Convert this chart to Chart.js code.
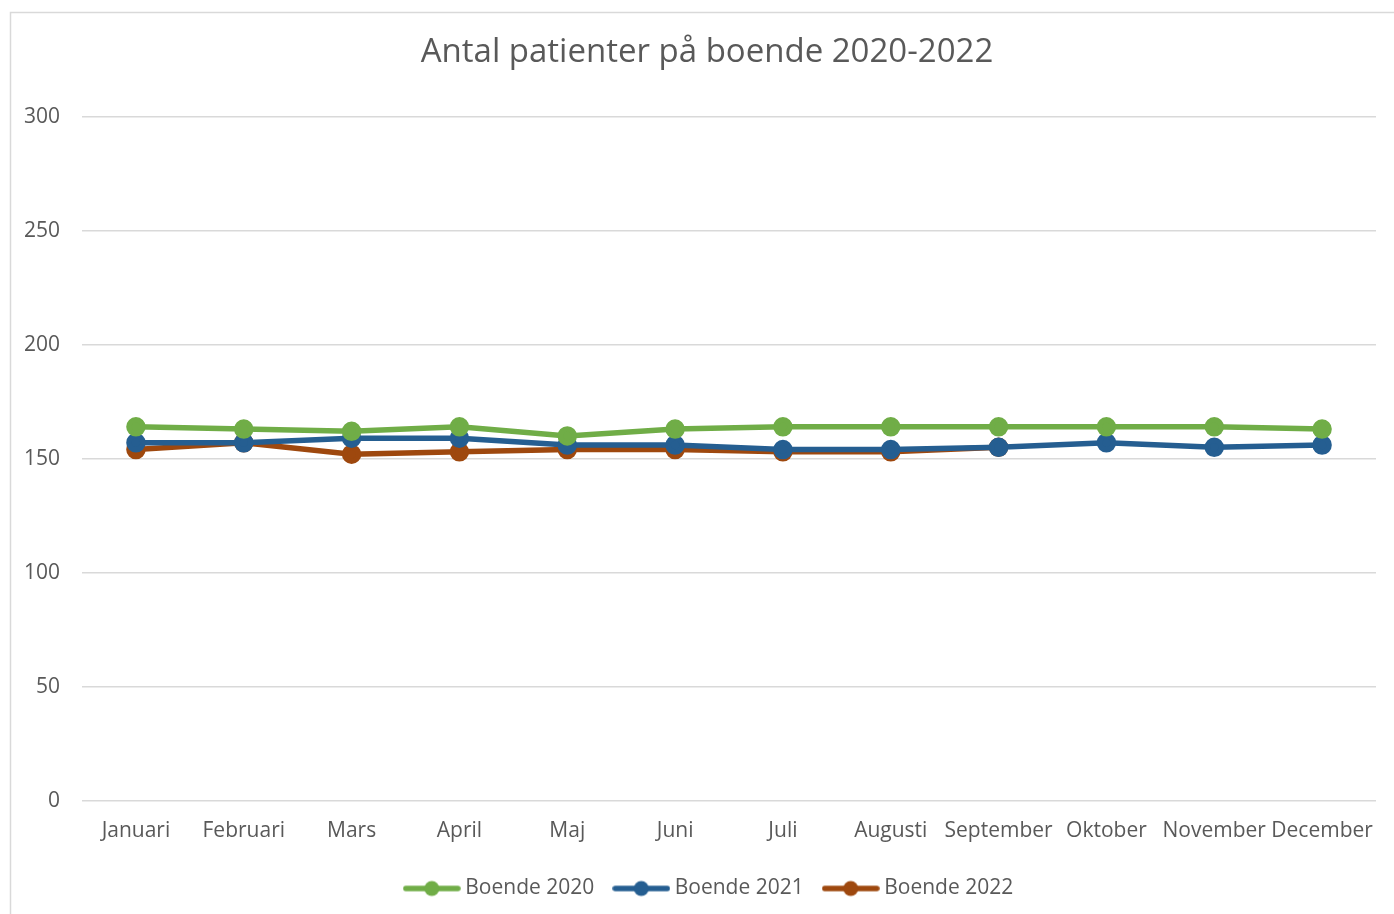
<!DOCTYPE html>
<html>
<head>
<meta charset="utf-8">
<script src="https://cdn.jsdelivr.net/npm/chart.js@4"></script>
<style>
  body { margin: 0; background: #fff; }
  canvas { display: block; }
</style>
</head>
<body>
<canvas id="Grafico_Linea" width="1394" height="914"></canvas>
<script>
const months = ['Januari', 'Februari', 'Mars', 'April', 'Maj', 'Juni', 'Juli', 'Augusti', 'September', 'Oktober', 'November', 'December'];
const boende2020 = [164, 163, 162, 164, 160, 163, 164, 164, 164, 164, 164, 163];
const boende2021 = [157, 157, 159, 159, 156, 156, 154, 154, 155, 157, 155, 156];
const boende2022 = [154, 157, 152, 153, 154, 154, 153, 153, 155, null, null, null];
const yTicks = [0, 50, 100, 150, 200, 250, 300];

const fontFam = "'Open Sans', sans-serif";
const textColor = '#595959';

// liten bild med linje + punkt till legenden
function legendIcon(color) {
  const c = document.createElement('canvas');
  c.width = 58; c.height = 18;
  const g = c.getContext('2d');
  g.strokeStyle = color;
  g.lineWidth = 5.5;
  g.lineCap = 'round';
  g.beginPath(); g.moveTo(3, 9); g.lineTo(55, 9); g.stroke();
  g.fillStyle = color;
  g.beginPath(); g.arc(29, 9, 7.5, 0, Math.PI * 2); g.fill();
  return c;
}

const colors = ['#70AD47', '#255E91', '#9E480E'];
const icons = colors.map(legendIcon);

// ram runt diagrammet + flytta titel/legend lite åt höger (som i originalet)
const frame = {
  id: 'frame',
  afterLayout(chart) {
    if (chart.titleBlock) chart.titleBlock.left += 36;
    if (chart.legend) chart.legend.left += 44;
  },
  beforeDraw(chart) {
    const ctx = chart.ctx;
    ctx.save();
    ctx.strokeStyle = '#d9d9d9';
    ctx.lineWidth = 1.5;
    ctx.strokeRect(10.5, 12.5, 1500, 1000);
    ctx.restore();
  }
};

function serie(label, data, color) {
  return {
    label: label,
    data: data,
    borderColor: color,
    backgroundColor: color,
    pointBackgroundColor: color,
    pointBorderColor: color,
    borderWidth: 5.5,
    pointRadius: 7,
    pointHoverRadius: 7,
    tension: 0,
    spanGaps: false
  };
}

new Chart(document.getElementById('Grafico_Linea').getContext('2d'), {
  type: 'line',
  data: {
    labels: months,
    datasets: [
      serie('Boende 2020', boende2020, colors[0]),
      serie('Boende 2021', boende2021, colors[1]),
      serie('Boende 2022', boende2022, colors[2])
    ]
  },
  options: {
    responsive: false,
    animation: false,
    layout: { padding: { left: 2, right: 18, top: 18, bottom: 5 } },
    plugins: {
      title: {
        display: true,
        text: 'Antal patienter på boende 2020-2022',
        color: textColor,
        font: { family: fontFam, size: 33, weight: 'normal' },
        padding: { top: 15, bottom: 44 }
      },
      legend: {
        position: 'bottom',
        labels: {
          color: textColor,
          font: { family: fontFam, size: 21 },
          usePointStyle: true,
          pointStyleWidth: 46,
          boxHeight: 18,
          padding: 24,
          generateLabels(chart) {
            const items = Chart.defaults.plugins.legend.labels.generateLabels(chart);
            items.forEach((it, i) => { it.pointStyle = icons[i]; });
            return items;
          }
        }
      },
      tooltip: { enabled: false }
    },
    scales: {
      x: {
        offset: true,
        grid: { display: false },
        border: { display: false },
        ticks: {
          color: textColor,
          font: { family: fontFam, size: 21 },
          padding: 10,
          maxRotation: 0,
          autoSkip: false
        }
      },
      y: {
        min: 0,
        max: 300,
        afterBuildTicks(axis) { axis.ticks = yTicks.map(v => ({ value: v })); },
        grid: { color: '#d9d9d9', lineWidth: 1.5, drawTicks: false },
        border: { display: false },
        ticks: {
          color: textColor,
          font: { family: fontFam, size: 21 },
          padding: 22
        }
      }
    }
  },
  plugins: [frame]
});
</script>
</body>
</html>
